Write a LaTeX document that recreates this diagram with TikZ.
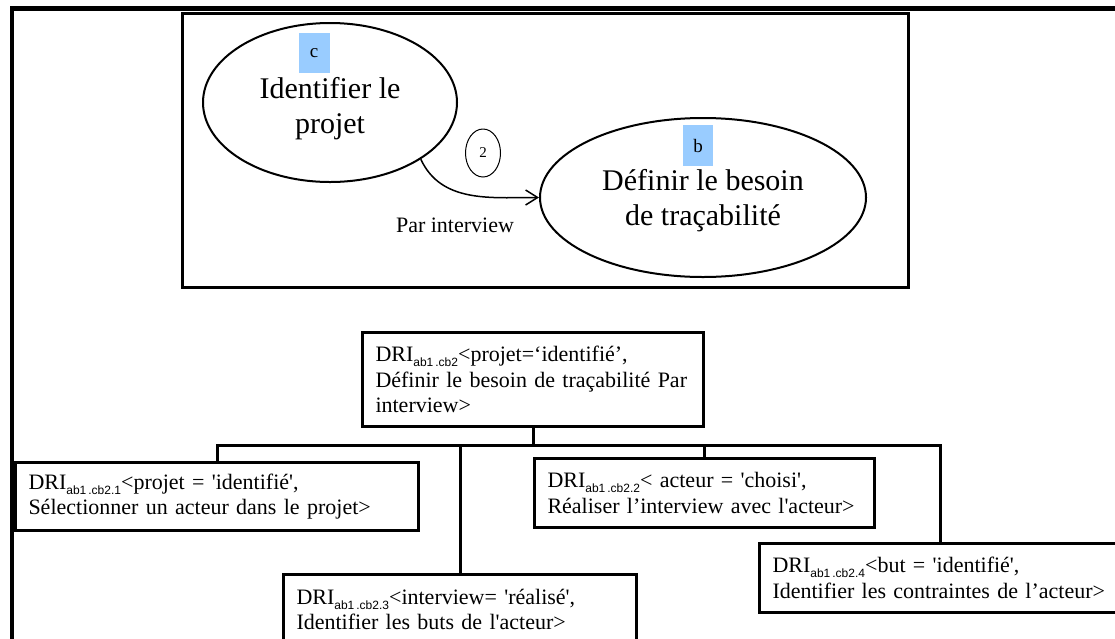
\documentclass[tikz,border=0pt]{standalone}
\usepackage{fontspec}
\setmainfont{Liberation Serif}[Ligatures=TeXOff]
\setsansfont{Liberation Sans}
\usetikzlibrary{arrows.meta,positioning,shapes.geometric}
\definecolor{tagblue}{RGB}{153,204,255}
\newcommand{\dri}[1]{DRI\raisebox{-5pt}{\sffamily\fontsize{12}{13}\selectfont #1}}

\begin{document}
\begin{tikzpicture}[x=1pt, y=-1pt,
    cadre/.style={draw, line width=3pt},
    etat/.style={draw, ellipse, line width=2pt, inner sep=0pt, align=center, font=\fontsize{30}{35}\selectfont},
    tag/.style={fill=tagblue, inner sep=0pt, font=\fontsize{19}{19}\selectfont},
    lbl/.style={font=\fontsize{22}{26}\selectfont},
    dri/.style={draw, line width=3pt, anchor=north west, align=left, inner xsep=13pt, inner ysep=0pt, font=\fontsize{22}{25.5}\selectfont},
    lien/.style={line width=3pt},
    fleche/.style={line width=1.5pt, -{Straight Barb[length=12pt, width=15pt, line width=1.5pt]}}
]
\path[use as bounding box] (0,0) rectangle (1115,638);
\clip (0,0) rectangle (1115,638);

% frames
\draw[line width=4.5pt] (12,8.5) rectangle (1200,700);
\draw[cadre] (182,13.5) rectangle (908,287);

% upper part
\node[etat, minimum width=254pt, minimum height=159pt] (projet) at (330,102.5) {\rule{0pt}{33pt}Identifier le\\projet};
\node[etat, minimum width=326pt, minimum height=159pt] (besoin) at (703,197.5) {\rule{0pt}{27pt}Définir le besoin\\de traçabilité};
\node[tag, minimum width=31pt, minimum height=40pt] (tc) at (314,53) {c};
\node[tag, minimum width=30pt, minimum height=41pt] (tb) at (698,145.5) {b};
\node[draw, ellipse, line width=1pt, minimum width=35pt, minimum height=48pt, inner sep=0pt, font=\fontsize{15}{15}\selectfont] (deux) at (483,153) {2};
\node[lbl] (par) at (455,225) {Par interview};
\draw[fleche] (projet.-32) to[out=-65, in=180] (besoin.west);

% tree
\node[dri, text width=315pt, minimum height=94pt] (r) at (361,331) {\dri{ab1\,.cb2}<projet=‘identifié’,\\Définir le besoin de traçabilité Par\\interview>};
\node[dri, text width=377pt, minimum height=68pt] (b1) at (14,461) {\dri{ab1\,.cb2.1}<projet = 'identifié',\\Sélectionner un acteur dans le projet>};
\node[dri, text width=314pt, minimum height=69pt] (b2) at (533,457) {\dri{ab1\,.cb2.2}< acteur = 'choisi',\\Réaliser l’interview avec l'acteur>};
\node[dri, text width=327pt, minimum height=70pt] (b3) at (282,573) {\dri{ab1\,.cb2.3}<interview= 'réalisé',\\Identifier les buts de l'acteur>};
\node[dri, text width=336pt, minimum height=69pt] (b4) at (758,542) {\dri{ab1\,.cb2.4}<but = 'identifié',\\Identifier les contraintes de l’acteur>};

\draw[lien] (r.south) -- ++(0,17) coordinate (j);
\foreach \b in {b1,b2,b3,b4}
  \draw[lien] (j) -| (\b.north);
\end{tikzpicture}
\end{document}
